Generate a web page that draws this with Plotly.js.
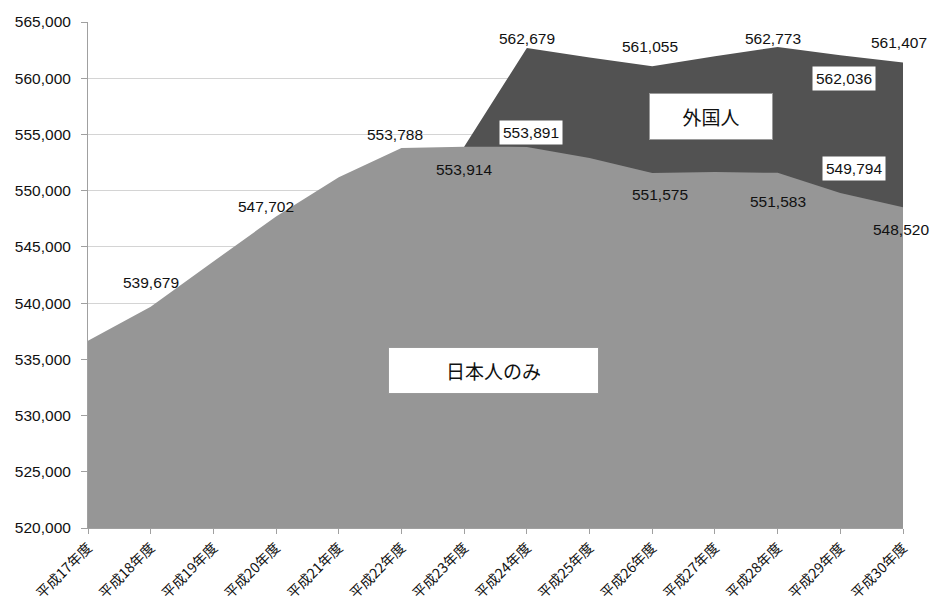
<!DOCTYPE html>
<html>
<head>
<meta charset="utf-8">
<script src="https://cdn.plot.ly/plotly-3.0.1.min.js"></script>
<style>html,body{margin:0;padding:0;background:#fff;}#chart{width:931px;height:604px;}</style>
</head>
<body>
<div id="chart"></div>
<script>
const categories = ['平成17年度','平成18年度','平成19年度','平成20年度','平成21年度','平成22年度','平成23年度','平成24年度','平成25年度','平成26年度','平成27年度','平成28年度','平成29年度','平成30年度'];
const japaneseOnly = [536650, 539679, 543700, 547702, 551200, 553788, 553914, 553891, 552900, 551575, 551650, 551583, 549794, 548520];
const totalWithForeign = [null, null, null, null, null, null, 553914, 562679, 561850, 561055, 561950, 562773, 562036, 561407];
const yTickVals = [520000, 525000, 530000, 535000, 540000, 545000, 550000, 555000, 560000, 565000];

// label styling per labelled point: [index, xshift, yshift, boxed]
const jpLabelStyle = [[1,0,24,false],[3,-10,10,false],[5,-6,14,false],[6,0,-23,false],[7,4,14,true],[9,8,-22,false],[11,0,-29,false],[12,14,24,true],[13,-2,-22,false]];
const totLabelStyle = [[7,0,10,false],[9,-2,20,false],[11,-5,9,false],[12,4,-23,true],[13,-4,20,false]];

const fmt = v => v.toLocaleString('en-US');
const labelFont = {family:'Liberation Sans, Arial, sans-serif', size:15.5, color:'#111'};

function makeLabels(series, styles){
  return styles.map(([i,dx,dy,boxed]) => ({
    x: categories[i], y: series[i], xref:'x', yref:'y',
    text: fmt(series[i]), showarrow:false, xshift:dx, yshift:dy,
    font: labelFont,
    bgcolor: boxed ? '#ffffff' : 'rgba(0,0,0,0)',
    borderpad: boxed ? 3 : 0
  }));
}

const traces = [
  {x: categories, y: totalWithForeign, type:'scatter', mode:'lines', fill:'tozeroy',
   fillcolor:'#525252', line:{width:0, color:'#525252'}, name:'外国人', hoverinfo:'skip'},
  {x: categories, y: japaneseOnly, type:'scatter', mode:'lines', fill:'tozeroy',
   fillcolor:'#969696', line:{width:0, color:'#969696'}, name:'日本人のみ', hoverinfo:'skip'}
];

const annotations = [
  ...makeLabels(japaneseOnly, jpLabelStyle),
  ...makeLabels(totalWithForeign, totLabelStyle),
  {xref:'paper', yref:'paper', x:0.764, y:0.814, xanchor:'center', yanchor:'middle', text:'外国人', showarrow:false,
   font:{family:'Noto Sans CJK JP, sans-serif', size:19, color:'#111'},
   bgcolor:'#ffffff', bordercolor:'#9a9a9a', borderwidth:1, width:120, height:43},
  {xref:'paper', yref:'paper', x:0.497, y:0.312, xanchor:'center', yanchor:'middle', text:'日本人のみ', showarrow:false,
   font:{family:'Noto Sans CJK JP, sans-serif', size:19, color:'#111'},
   bgcolor:'#ffffff', bordercolor:'#9a9a9a', borderwidth:1, width:207, height:43}
];

const layout = {
  width:931, height:604,
  margin:{l:88, r:28, t:22, b:76},
  paper_bgcolor:'#fff', plot_bgcolor:'#fff',
  showlegend:false,
  xaxis:{type:'category', range:[0,13], showgrid:false, zeroline:false,
    ticks:'outside', ticklen:5, tickcolor:'#a0a0a0', showline:true, linecolor:'#a0a0a0',
    tickangle:-45, tickfont:{family:'Noto Sans CJK JP, sans-serif', size:14, color:'#111'}},
  yaxis:{range:[520000,565000], tickvals:yTickVals, ticktext:yTickVals.map(fmt),
    showgrid:true, gridcolor:'#d4d4d4', gridwidth:1, zeroline:false,
    showline:true, linecolor:'#a0a0a0', ticks:'outside', ticklen:6, tickcolor:'#a0a0a0',
    ticklabelstandoff:7,
    tickfont:{family:'Liberation Sans, Arial, sans-serif', size:15.5, color:'#111'}},
  annotations: annotations
};

Plotly.newPlot('chart', traces, layout, {displayModeBar:false, staticPlot:true});
</script>
</body>
</html>
